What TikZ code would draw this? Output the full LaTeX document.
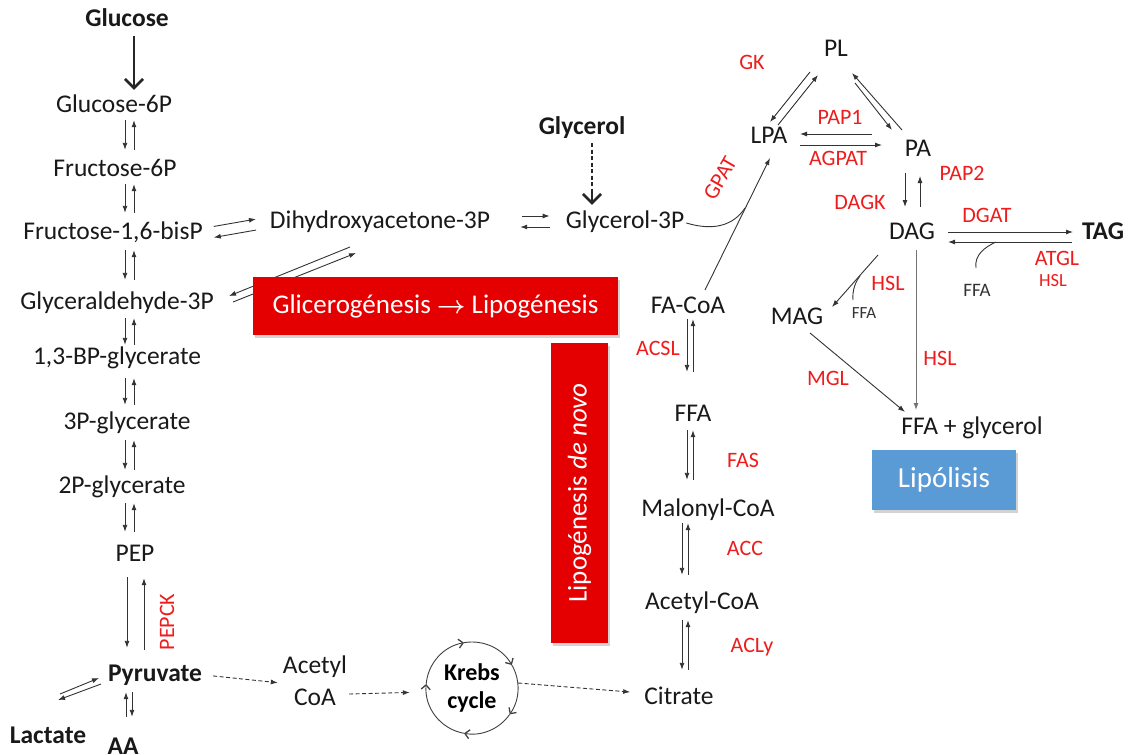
\documentclass[tikz,border=0pt]{standalone}
\usepackage{fontspec}
\setmainfont{Carlito}
\usetikzlibrary{arrows.meta,calc,shadows}
\definecolor{enzred}{RGB}{238,28,28}
\definecolor{boxred}{RGB}{228,0,0}
\definecolor{boxblue}{RGB}{91,155,213}
\tikzset{
  met/.style={inner sep=2pt, text height=16pt, text depth=4pt, font=\fontsize{25.5}{29}\selectfont, text=black!90},
  metb/.style={met, font=\fontsize{25.5}{29}\selectfont\bfseries},
  metsm/.style={inner sep=1pt, font=\fontsize{19}{22}\selectfont, text=black!80},
  enz/.style={inner sep=1pt, text=enzred, font=\fontsize{22}{26}\selectfont},
  enzsm/.style={inner sep=1pt, text=enzred, font=\fontsize{18.5}{22}\selectfont},
  rxn/.style={line width=0.9pt, color=black!80, -{Latex[length=7pt,width=5pt]}},
  dsh/.style={rxn, dashed, dash pattern=on 4pt off 2.5pt},
  bigarr/.style={line width=1.6pt, color=black!85, -{Straight Barb[length=9pt,width=18pt,line width=2.6pt]}},
  cyc/.style={line width=0.9pt, color=black!75, -{Straight Barb[length=4.5pt,width=9pt,line width=1.3pt]}},
  side/.style={line width=0.9pt, color=black!80},
  labelbox/.style={text=white, inner sep=0pt, drop shadow={opacity=0.35, shadow xshift=2pt, shadow yshift=-3pt}}
}

\begin{document}
\begin{tikzpicture}[x=1pt, y=-1pt]
			%%%%% START %%%%%
			\useasboundingbox (0,0) rectangle (1128,755);
			
			% glycolysis
			\node[metb] (glc) at (127,20) {Glucose};
			\node[met] (g6p) at (114,106) {Glucose-6P};
			\node[met] (f6p) at (115,170) {Fructose-6P};
			\node[met] (fbp) at (113,233) {Fructose-1,6-bisP};
			\node[met] (ga3p) at (117,303) {Glyceraldehyde-3P};
			\node[met] (bpg) at (117,358) {1,3-BP-glycerate};
			\node[met] (pg3) at (127,423) {3P-glycerate};
			\node[met] (pg2) at (122,487) {2P-glycerate};
			\node[met] (pep) at (135,555) {PEP};
			\node[metb] (pyr) at (155,675) {Pyruvate};
			\node[metb] (lac) at (48,737) {Lactate};
			\node[metb] (aa) at (123,748) {AA};
			\node[enz, rotate=90] (pepck) at (167,622) {PEPCK};
			
			\coordinate (cl) at (125,0);
			\coordinate (cr) at (134,0);
			
			\draw[bigarr, shorten <=4pt, shorten >=4pt] ([xshift=7pt]glc.south) -- ([xshift=20pt]g6p.north);
			
			\draw[rxn, shorten <=2pt, shorten >=8pt] (g6p.south -| cl) -- (f6p.north -| cl);
			\draw[rxn, shorten <=8pt, shorten >=2pt] (f6p.north -| cr) -- (g6p.south -| cr);
			\draw[rxn, shorten <=2pt, shorten >=8pt] (f6p.south -| cl) -- (fbp.north -| cl);
			\draw[rxn, shorten <=8pt, shorten >=2pt] (fbp.north -| cr) -- (f6p.south -| cr);
			\draw[rxn, shorten <=5pt, shorten >=11pt] (fbp.south -| cl) -- (ga3p.north -| cl);
			\draw[rxn, shorten <=11pt, shorten >=5pt] (ga3p.north -| cr) -- (fbp.south -| cr);
			\draw[rxn, shorten <=3pt, shorten >=1pt] (ga3p.south -| cl) -- (bpg.north -| cl);
			\draw[rxn, shorten <=1pt, shorten >=3pt] (bpg.north -| cr) -- (ga3p.south -| cr);
			\draw[rxn, shorten <=8pt, shorten >=6pt] (bpg.south -| cl) -- (pg3.north -| cl);
			\draw[rxn, shorten <=6pt, shorten >=8pt] (pg3.north -| cr) -- (bpg.south -| cr);
			\draw[rxn, shorten <=5pt, shorten >=5pt] (pg3.south -| cl) -- (pg2.north -| cl);
			\draw[rxn, shorten <=5pt, shorten >=5pt] (pg2.north -| cr) -- (pg3.south -| cr);
			\draw[rxn, shorten <=4pt, shorten >=11pt] (pg2.south -| cl) -- (pep.north -| cl);
			\draw[rxn, shorten <=11pt, shorten >=4pt] (pep.north -| cr) -- (pg2.south -| cr);
			
			\draw[rxn, shorten <=10pt, shorten >=15pt] ([xshift=-8pt]pep.south) -- ([xshift=-28pt]pyr.north);
			\draw[rxn, shorten <=13pt, shorten >=11pt] ([xshift=-11pt]pyr.north) -- ([xshift=9pt]pep.south);
			
			\draw[rxn, shorten <=5pt, shorten >=19pt] ([xshift=-23pt]pyr.south) -- ([xshift=9pt]aa.north);
			\draw[rxn, shorten <=19pt, shorten >=5pt] ([xshift=3pt]aa.north) -- ([xshift=-29pt]pyr.south);
			
			\draw[rxn] ($(lac)+(12,-43)$) -- ($(pyr)+(-56,3)$);
			\draw[rxn] ($(pyr)+(-54,9)$) -- ($(lac)+(10,-37)$);
			
			% glycerol
			\node[met] (dhap) at (380,222) {Dihydroxyacetone-3P};
			\node[met] (g3p) at (625,222) {Glycerol-3P};
			\node[metb] (gly) at (582,128) {Glycerol};
			
			\draw[rxn, shorten <=9pt, shorten >=12pt] ([yshift=5pt]fbp.east) -- ([yshift=5pt]dhap.west);
			\draw[rxn, shorten <=12pt, shorten >=9pt] ([yshift=-6pt]dhap.west) -- ([yshift=-6pt]fbp.east);
			\draw[rxn, shorten <=30pt, shorten >=14pt] ([yshift=6pt]dhap.east) -- ([yshift=6pt]g3p.west);
			\draw[rxn, shorten <=14pt, shorten >=28pt] ([yshift=-5pt]g3p.west) -- ([yshift=-5pt]dhap.east);
			\draw[rxn] ($(dhap)+(-30,25)$) -- ($(ga3p)+(112,-7)$);
			\draw[rxn] ($(ga3p)+(116,-1)$) -- ($(dhap)+(-24,31)$);
			
			\draw[line width=1.1pt, color=black!85, dash pattern=on 4pt off 2.5pt, shorten <=3pt, shorten >=14pt] ([xshift=10pt]gly.south) -- ([xshift=-33pt]g3p.north);
			\draw[bigarr, line width=1.1pt, shorten <=52pt, shorten >=5pt] ([xshift=10pt]gly.south) -- ([xshift=-33pt]g3p.north);
			
			% triglyceride cycle
			\node[met] (pl) at (836,50) {PL};
			\node[met] (lpa) at (769,137) {LPA};
			\node[met] (pa) at (918,150) {PA};
			\node[met] (dag) at (912,233) {DAG};
			\node[metb] (tag) at (1103,233) {TAG};
			\node[met] (mag) at (797,318) {MAG};
			\node[met] (ffagly) at (972,428) {FFA + glycerol};
			\node[metsm] (ffaa) at (977,290) {FFA};
			\node[metsm, font=\fontsize{17}{20}\selectfont] (ffab) at (864,313) {FFA};
			
			\node[enz] (gk) at (752,62) {GK};
			\node[enz] (pap1) at (840,117) {PAP1};
			\node[enz] (agpat) at (838,158) {AGPAT};
			\node[enz] (pap2) at (962,173) {PAP2};
			\node[enz] (dagk) at (860,202) {DAGK};
			\node[enz] (dgat) at (987,215) {DGAT};
			\node[enz] (atgl) at (1057,258) {ATGL};
			\node[enzsm] (hsla) at (1053,281) {HSL};
			\node[enz] (hslb) at (888,283) {HSL};
			\node[enz] (hslc) at (940,358) {HSL};
			\node[enz] (mgl) at (828,378) {MGL};
			\node[enz, rotate=60] (gpat) at (720,178) {GPAT};
			
			\draw[rxn] ($(pl)+(-26,22)$) -- ($(lpa)+(1,-15)$);
			\draw[rxn] ($(lpa)+(9,-12)$) -- ($(pl)+(-18,25)$);
			\draw[rxn] ($(pl)+(19,33)$) -- ($(pa)+(-26,-20)$);
			\draw[rxn] ($(pa)+(-16,-20)$) -- ($(pl)+(16,23)$);
			\draw[rxn] ($(pa)+(-46,-16)$) -- ($(lpa)+(31,-3)$);
			\draw[rxn] ($(lpa)+(31,8)$) -- ($(pa)+(-36,-5)$);
			\draw[rxn] ($(pa)+(-13,23)$) -- ($(dag)+(-7,-26)$);
			\draw[rxn] ($(dag)+(8,-26)$) -- ($(pa)+(2,26)$);
			\draw[rxn] ($(dag)+(36,-1)$) -- ($(tag)+(-30,-1)$);
			\draw[rxn] ($(tag)+(-31,9)$) -- ($(dag)+(36,9)$);
			\draw[rxn] ($(dag)+(-34,22)$) -- ($(mag)+(35,-11)$);
			\draw[rxn, color=black!55] ($(dag)+(4,17)$) -- ($(ffagly)+(-56,-18)$);
			\draw[rxn] ($(mag)+(13,15)$) -- ($(ffagly)+(-67,-16)$);
			
			\coordinate (ffain) at (996,242);
			\coordinate (ffain2) at (860,276);
			\draw[side] ($(ffaa)+(-1,-22)$) .. controls ($(ffaa)+(-3,-35)$) and ($(ffaa)+(8,-43)$) .. (ffain);
			\draw[side] ($(ffab)+(-11,-13)$) .. controls ($(ffab)+(-12,-23)$) and ($(ffab)+(-8,-32)$) .. (ffain2);
			
			% de novo lipogenesis
			\node[met] (facoa) at (688,307) {FA-CoA};
			\node[met] (ffa) at (693,415) {FFA};
			\node[met] (malcoa) at (708,510) {Malonyl-CoA};
			\node[met] (acecoa) at (702,603) {Acetyl-CoA};
			\node[met] (cit) at (679,698) {Citrate};
			
			\node[enz] (acsl) at (658,348) {ACSL};
			\node[enz] (fas) at (743,460) {FAS};
			\node[enz] (acc) at (745,548) {ACC};
			\node[enz] (acly) at (752,647) {ACLy};
			
			\coordinate (fla) at (687,0);
			\coordinate (fra) at (693,0);
			\coordinate (flb) at (682,0);
			\coordinate (frb) at (688,0);
			
			\draw[rxn, shorten <=0pt, shorten >=31pt] (facoa.south -| fla) -- (ffa.north -| fla);
			\draw[rxn, shorten <=31pt, shorten >=0pt] (ffa.north -| fra) -- (facoa.south -| fra);
			\draw[rxn, shorten <=3pt, shorten >=18pt] (ffa.south -| fla) -- (malcoa.north -| fla);
			\draw[rxn, shorten <=18pt, shorten >=3pt] (malcoa.north -| fra) -- (ffa.south -| fra);
			\draw[rxn, shorten <=1pt, shorten >=16pt] (malcoa.south -| flb) -- (acecoa.north -| flb);
			\draw[rxn, shorten <=16pt, shorten >=1pt] (acecoa.north -| frb) -- (malcoa.south -| frb);
			\draw[rxn, shorten <=5pt, shorten >=16pt] (acecoa.south -| flb) -- (cit.north -| flb);
			\draw[rxn, shorten <=16pt, shorten >=5pt] (cit.north -| frb) -- (acecoa.south -| frb);
			
			\coordinate (gpatin) at (745,208);
			\draw[rxn] ($(facoa)+(17,-17)$) -- ($(lpa)+(1,21)$);
			\draw[side] ($(g3p.east)+(0,1)$) .. controls (713,231) and (733,226) .. (gpatin);
			
			% krebs
			\node[align=center, font=\fontsize{24}{28}\selectfont\bfseries, circle, minimum size=92pt, inner sep=0pt] (krebs) at (472,688) {Krebs\\cycle};
			\node[align=center, inner sep=2pt, font=\fontsize{25.5}{32}\selectfont, text=black!90] (acoa) at (315,681) {Acetyl\\CoA};
			
			\draw[cyc] ([shift={(175:46pt)}]krebs.center) arc[start angle=175, end angle=100, radius=46pt];
			\draw[cyc] ([shift={(100:46pt)}]krebs.center) arc[start angle=100, end angle=30, radius=46pt];
			\draw[cyc] ([shift={(30:46pt)}]krebs.center) arc[start angle=30, end angle=-35, radius=46pt];
			\draw[cyc] ([shift={(-35:46pt)}]krebs.center) arc[start angle=-35, end angle=-100, radius=46pt];
			\draw[cyc] ([shift={(-100:46pt)}]krebs.center) arc[start angle=-100, end angle=-185, radius=46pt];
			
			\draw[dsh, shorten <=9pt, shorten >=3pt] (pyr.east) -- ([yshift=-2pt]acoa.west);
			\draw[dsh, shorten <=0pt, shorten >=16pt] ([yshift=-13pt]acoa.east) -- ([yshift=-4pt]krebs.west);
			\draw[dsh, shorten <=0pt, shorten >=12pt] ([yshift=5pt]krebs.east) -- ([yshift=5pt]cit.west);
			
			% boxes
			\node[labelbox, fill=boxred, minimum width=365pt, minimum height=58pt, font=\fontsize{27}{32}\selectfont] (glicbox) at (435.5,306) {Glicerogénesis {\boldmath$\rightarrow$} Lipogénesis};
			\node[labelbox, fill=boxred, minimum width=300pt, minimum height=57pt, rotate=90, font=\fontsize{27}{32}\selectfont] (novobox) at (579.5,493) {Lipogénesis \textit{de novo}};
			\node[labelbox, fill=boxblue, minimum width=144pt, minimum height=60pt, font=\fontsize{29}{33}\selectfont] (lipobox) at (944,480) {Lipólisis};
			
			%%%%% END %%%%%
\end{tikzpicture}
\end{document}
